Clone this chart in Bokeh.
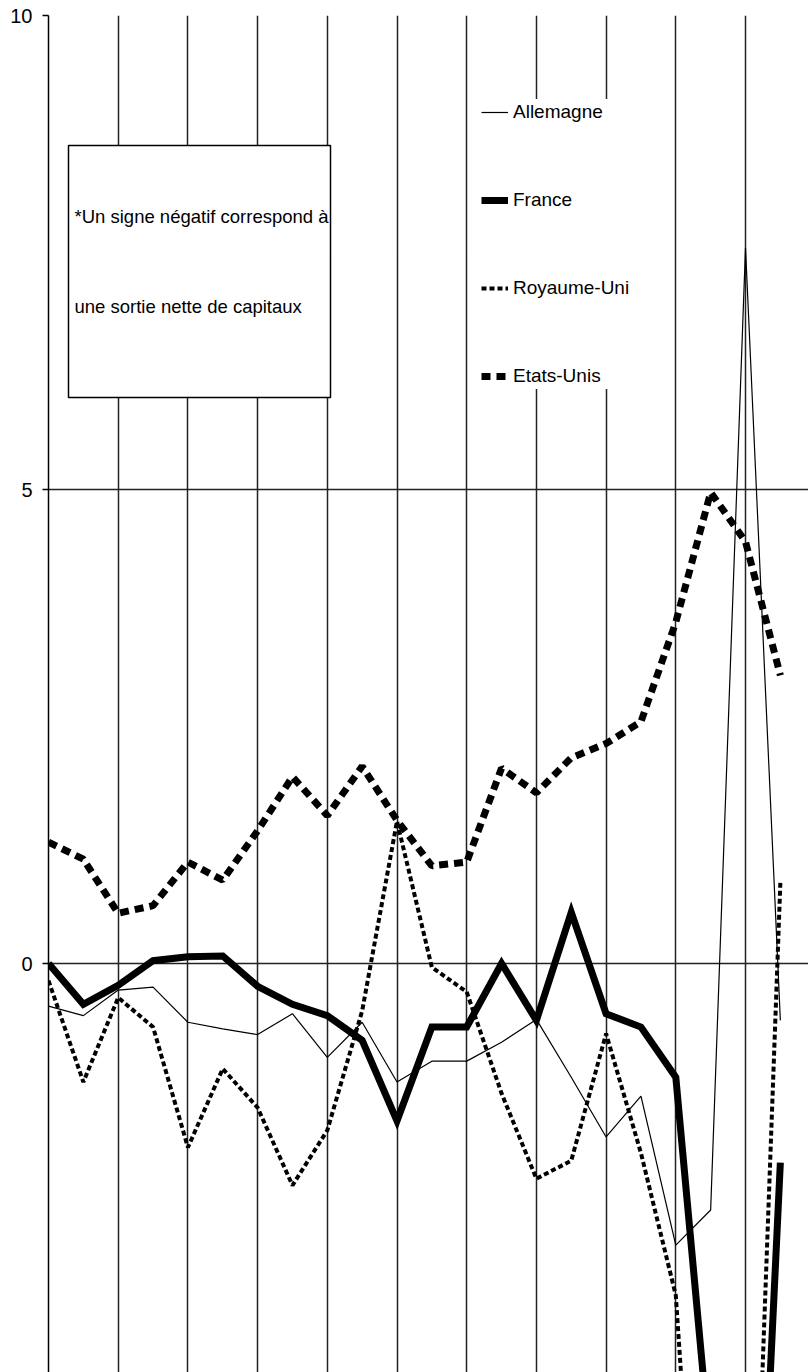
from bokeh.plotting import figure
from bokeh.models import Range1d, FixedTicker, Legend, LegendItem, BoxAnnotation, Label
from bokeh.embed import file_html
from bokeh.resources import INLINE

# ---- data ----
periodes = list(range(22))
allemagne = [-0.45, -0.55, -0.28, -0.25, -0.62, -0.69, -0.75, -0.53, -0.99, -0.62, -1.25,
             -1.03, -1.03, -0.83, -0.59, -1.20, -1.83, -1.40, -2.97, -2.60, 7.55, -0.60]
france = [0.00, -0.43, -0.23, 0.03, 0.07, 0.08, -0.24, -0.43, -0.55, -0.81, -1.66,
          -0.67, -0.67, 0.00, -0.60, 0.54, -0.53, -0.67, -1.20, -5.20, -9.80, -2.10]
royaume_uni = [-0.18, -1.25, -0.36, -0.67, -1.94, -1.11, -1.52, -2.34, -1.76, -0.50, 1.50,
               -0.04, -0.30, -1.37, -2.27, -2.08, -0.74, -2.00, -3.50, -9.00, -9.20, 0.85]
etats_unis = [1.28, 1.10, 0.53, 0.61, 1.07, 0.88, 1.40, 1.97, 1.56, 2.08, 1.51,
              1.03, 1.07, 2.06, 1.80, 2.17, 2.32, 2.55, 3.60, 4.97, 4.45, 3.04]
y_ticks = [-5, 0, 5, 10]
grid_x = [0, 2, 4, 6, 8, 10, 12, 14, 16, 18, 20, 22]
noms = ["Allemagne", "France", "Royaume-Uni", "Etats-Unis"]
note = ["*Un signe négatif correspond à", "une sortie nette de capitaux"]

FONT = "Liberation Sans"

W, H = 808, 1372
LEFT, TOP = 48, 15
px_x = 34.85
px_y = 94.8
frame_w = W - LEFT
frame_h = H - TOP

p = figure(width=W, height=H, output_backend="svg", toolbar_location=None,
           x_range=Range1d(0, frame_w / px_x),
           y_range=Range1d(10 - frame_h / px_y, 10.0),
           min_border_left=LEFT, min_border_top=TOP, min_border_right=0, min_border_bottom=0,
           background_fill_color="white", border_fill_color="white")
p.outline_line_color = None
p.xaxis.visible = False

p.yaxis.ticker = FixedTicker(ticks=y_ticks)
p.yaxis.major_label_text_font = FONT
p.yaxis.major_label_text_font_size = "20px"
p.yaxis.major_label_text_color = "black"
p.yaxis.major_tick_out = 6
p.yaxis.major_tick_in = 0
p.yaxis.minor_tick_out = 0
p.yaxis.minor_tick_in = 0
p.yaxis.axis_line_color = "black"
p.yaxis.axis_line_width = 1.5
p.yaxis.major_tick_line_width = 1.5
p.yaxis.major_label_standoff = 10

p.xgrid.ticker = FixedTicker(ticks=grid_x)
p.ygrid.ticker = FixedTicker(ticks=y_ticks)
for g in (p.xgrid, p.ygrid):
    g.grid_line_color = "#222222"
    g.grid_line_width = 1.5

r_all = p.line(periodes, allemagne, line_color="black", line_width=1.2)
r_fr = p.line(periodes, france, line_color="black", line_width=7, line_join="miter")
r_ru = p.line(periodes, royaume_uni, line_color="black", line_width=4, line_dash="5 3")
r_us = p.line(periodes, etats_unis, line_color="black", line_width=7, line_dash="9 6")

legend = Legend(items=[LegendItem(label=n, renderers=[r]) for n, r in
                       zip(noms, [r_all, r_fr, r_ru, r_us])],
                location=(433, 983))
legend.glyph_width = 27
legend.glyph_height = 26
legend.label_height = 26
legend.spacing = 62
legend.padding = 16
legend.margin = 0
legend.label_standoff = 5
legend.border_line_color = None
legend.background_fill_color = "white"
legend.background_fill_alpha = 1.0
legend.label_text_font = FONT
legend.label_text_font_size = "19px"
legend.label_text_color = "black"
p.add_layout(legend)

# note box (decoration)
box = BoxAnnotation(left=(68 - 48) / px_x, right=(330 - 48) / px_x,
                    top=(963 - 145) / px_y, bottom=(963 - 397) / px_y,
                    fill_color="white", fill_alpha=1.0,
                    line_color="black", line_width=1.5, line_alpha=1.0)
p.add_layout(box)
for txt, base in zip(note, [216, 306]):
    p.add_layout(Label(x=(74 - 48) / px_x, y=(963 - base) / px_y, text=txt,
                       text_font=FONT, text_font_size="18.5px", text_color="black",
                       text_baseline="alphabetic"))

open("out.html", "w").write(file_html(p, INLINE))
